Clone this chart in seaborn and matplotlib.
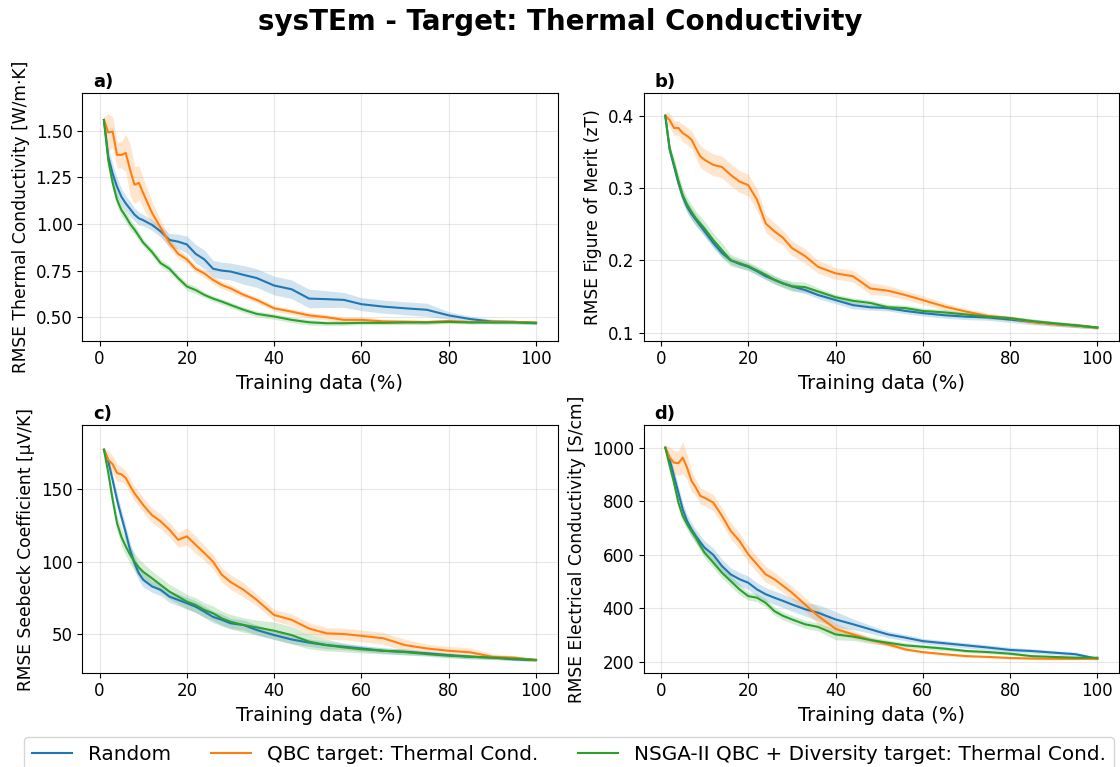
import matplotlib
matplotlib.use("Agg")
import matplotlib.pyplot as plt
import seaborn as sns
import numpy as np
import pandas as pd

# Training-set fraction (%) at which each model was evaluated
train_pct = [1, 2, 3, 4, 5, 6, 7, 8, 9, 10, 12, 14, 16, 18, 20, 22, 24, 26, 28, 30,
             33, 36, 40, 44, 48, 52, 56, 60, 65, 70, 75, 80, 85, 90, 95, 100]

strategies = ["Random", "QBC target: Thermal Cond.", "NSGA-II QBC + Diversity target: Thermal Cond."]
colors = sns.color_palette("tab10", 3)

# a) Thermal conductivity RMSE (mean, std)
a_random = [1.557, 1.36, 1.27, 1.20, 1.146, 1.11, 1.08, 1.05, 1.03, 1.02, 0.995, 0.96, 0.914, 0.905, 0.89, 0.84, 0.81, 0.76,
            0.75, 0.745, 0.727, 0.71, 0.67, 0.65, 0.60, 0.597, 0.593, 0.57, 0.557, 0.548, 0.54, 0.51, 0.49, 0.477, 0.475, 0.468]
a_qbc = [1.557, 1.49, 1.495, 1.37, 1.37, 1.38, 1.29, 1.21, 1.22, 1.165, 1.06, 0.98, 0.90, 0.84, 0.81, 0.76, 0.735, 0.70,
         0.673, 0.655, 0.62, 0.593, 0.548, 0.53, 0.51, 0.50, 0.486, 0.486, 0.478, 0.476, 0.474, 0.48, 0.474, 0.476, 0.475, 0.472]
a_nsga = [1.557, 1.34, 1.22, 1.13, 1.075, 1.04, 1.00, 0.97, 0.935, 0.90, 0.85, 0.79, 0.76, 0.71, 0.665, 0.646, 0.62, 0.60,
          0.584, 0.566, 0.54, 0.518, 0.504, 0.486, 0.473, 0.468, 0.468, 0.47, 0.47, 0.472, 0.472, 0.475, 0.472, 0.472, 0.472, 0.47]
a_random_sd = [0.01, 0.05, 0.05, 0.05, 0.045, 0.04, 0.04, 0.035, 0.035, 0.03, 0.03, 0.03, 0.035, 0.04, 0.045, 0.05, 0.05, 0.045,
               0.045, 0.045, 0.05, 0.05, 0.05, 0.05, 0.05, 0.045, 0.04, 0.035, 0.035, 0.035, 0.035, 0.02, 0.015, 0.012, 0.01, 0.008]
a_qbc_sd = [0.02, 0.1, 0.08, 0.07, 0.07, 0.1, 0.14, 0.1, 0.09, 0.08, 0.06, 0.04, 0.03, 0.025, 0.02, 0.02, 0.02, 0.02,
            0.02, 0.02, 0.015, 0.015, 0.015, 0.015, 0.015, 0.015, 0.015, 0.015, 0.012, 0.012, 0.012, 0.01, 0.01, 0.008, 0.008, 0.008]
a_nsga_sd = [0.02, 0.04, 0.04, 0.035, 0.03, 0.03, 0.03, 0.025, 0.025, 0.02, 0.02, 0.02, 0.02, 0.02, 0.02, 0.02, 0.015, 0.015,
             0.015, 0.015, 0.015, 0.015, 0.015, 0.015, 0.015, 0.012, 0.012, 0.01, 0.01, 0.01, 0.01, 0.008, 0.008, 0.008, 0.008, 0.008]

# b) Figure of merit RMSE
b_random = [0.40, 0.353, 0.33, 0.307, 0.288, 0.274, 0.264, 0.256, 0.248, 0.24, 0.224, 0.21, 0.20, 0.195, 0.191, 0.185, 0.178, 0.173,
            0.168, 0.164, 0.159, 0.152, 0.145, 0.138, 0.135, 0.134, 0.130, 0.127, 0.124, 0.122, 0.121, 0.118, 0.115, 0.112, 0.110, 0.107]
b_qbc = [0.40, 0.394, 0.383, 0.383, 0.376, 0.372, 0.367, 0.355, 0.344, 0.339, 0.332, 0.329, 0.318, 0.309, 0.304, 0.284, 0.251, 0.24,
         0.231, 0.217, 0.206, 0.191, 0.182, 0.178, 0.161, 0.158, 0.152, 0.145, 0.136, 0.129, 0.123, 0.12, 0.115, 0.112, 0.110, 0.107]
b_nsga = [0.40, 0.355, 0.333, 0.31, 0.29, 0.277, 0.267, 0.258, 0.251, 0.244, 0.228, 0.214, 0.20, 0.196, 0.192, 0.186, 0.18, 0.173,
          0.168, 0.164, 0.163, 0.157, 0.149, 0.144, 0.141, 0.135, 0.134, 0.130, 0.128, 0.125, 0.122, 0.12, 0.116, 0.113, 0.110, 0.107]
b_random_sd = [0.002, 0.006, 0.007, 0.008, 0.008, 0.008, 0.008, 0.008, 0.007, 0.007, 0.006, 0.006, 0.005, 0.005, 0.005, 0.005, 0.005, 0.005,
               0.005, 0.005, 0.005, 0.005, 0.005, 0.005, 0.004, 0.004, 0.004, 0.004, 0.004, 0.004, 0.004, 0.004, 0.004, 0.003, 0.003, 0.002]
b_qbc_sd = [0.005, 0.01, 0.01, 0.01, 0.012, 0.012, 0.012, 0.014, 0.015, 0.015, 0.015, 0.015, 0.015, 0.015, 0.015, 0.015, 0.012, 0.012,
            0.01, 0.01, 0.01, 0.009, 0.008, 0.008, 0.008, 0.007, 0.006, 0.006, 0.005, 0.004, 0.004, 0.003, 0.003, 0.003, 0.003, 0.002]
b_nsga_sd = [0.002, 0.006, 0.008, 0.01, 0.01, 0.01, 0.01, 0.01, 0.01, 0.01, 0.01, 0.01, 0.008, 0.007, 0.006, 0.006, 0.006, 0.006,
             0.006, 0.007, 0.007, 0.005, 0.004, 0.004, 0.004, 0.004, 0.004, 0.004, 0.004, 0.003, 0.003, 0.003, 0.003, 0.003, 0.003, 0.002]

# c) Seebeck coefficient RMSE
c_random = [177, 169, 156, 142.6, 131, 120, 108, 99, 92, 87.5, 83, 80.6, 76, 73.7, 71.4, 69, 65.6, 62,
            60, 57.6, 56.4, 53, 49.5, 46.5, 44.3, 42.6, 41.5, 40.3, 38.7, 38, 37, 35.7, 34.6, 34, 32.8, 32.3]
c_qbc = [177, 170, 167, 161, 160, 157.6, 152, 147, 143, 139, 132, 127.7, 122, 115, 117.4, 111.6, 106, 100,
         91, 86, 80.6, 73.7, 63.3, 60, 54, 50.7, 50.2, 49, 47.3, 42.6, 40.3, 38.7, 37.6, 34.6, 34, 32.3]
c_nsga = [177, 161, 142.6, 126.5, 117, 110.5, 104.7, 100, 96, 93, 88.6, 84, 79.4, 76, 72.5, 70.2, 66.8, 64.5,
          61, 58.7, 56.4, 54.8, 52.5, 49.5, 45, 42.6, 41, 39.7, 38.7, 37.8, 36.4, 35.3, 34.6, 34, 33.2, 32.5]
c_random_sd = [1, 3, 4, 5, 5, 5, 5, 5, 5, 5, 4, 4, 4, 4, 4, 4, 4, 4,
               4, 3.5, 3.5, 3.5, 3, 3, 2.5, 2.5, 2, 2, 2, 2, 1.5, 1.5, 1.5, 1.2, 1, 1]
c_qbc_sd = [2, 6, 6, 6, 5, 5, 5, 5, 5, 5, 5, 5, 5, 5, 6, 6, 5, 5,
            5, 5, 5, 4, 4, 4, 4, 4, 4, 4, 4, 4, 3, 3, 3, 2, 1.5, 1]
c_nsga_sd = [1, 3, 4, 5, 6, 6, 6, 6, 6, 6, 5, 5, 5, 5, 5, 5, 5, 5,
             5, 5, 5, 5, 6, 6, 5, 4, 3, 2.5, 2, 2, 1.5, 1.5, 1.5, 1.2, 1, 1]

# d) Electrical conductivity RMSE
d_random = [1000, 956, 894, 832, 770, 726, 695, 670, 648, 627, 600, 558, 527, 509, 496, 471, 453, 440,
            428, 415, 397, 384, 359, 341, 322, 303, 291, 278, 270, 262, 254, 245, 241, 235, 229, 212]
d_qbc = [1000, 963, 944, 942, 963, 925, 876, 851, 820, 813, 795, 745, 689, 652, 602, 565, 527, 509,
         484, 459, 415, 372, 324, 303, 282, 266, 247, 237, 229, 222, 219, 215, 213, 212, 212, 212]
d_nsga = [1000, 932, 869, 795, 745, 714, 688, 664, 635, 608, 571, 533, 502, 471, 446, 440, 421, 390,
          372, 359, 341, 331, 303, 295, 282, 272, 262, 257, 250, 241, 237, 231, 222, 219, 216, 216]
d_random_sd = [5, 20, 25, 25, 25, 25, 25, 25, 25, 25, 25, 25, 25, 25, 25, 25, 25, 25,
               25, 25, 25, 30, 30, 20, 15, 12, 12, 10, 10, 10, 10, 10, 8, 8, 8, 5]
d_qbc_sd = [10, 40, 45, 45, 60, 45, 40, 30, 30, 30, 30, 30, 30, 30, 30, 30, 30, 25,
            25, 25, 25, 30, 20, 15, 10, 8, 6, 5, 5, 5, 4, 4, 4, 4, 4, 4]
d_nsga_sd = [5, 15, 20, 20, 20, 20, 20, 20, 20, 20, 20, 20, 20, 20, 15, 15, 15, 15,
             15, 15, 15, 15, 20, 15, 12, 10, 10, 8, 8, 6, 6, 5, 5, 5, 5, 5]

# y ticks shown on each panel
a_yticks = [0.50, 0.75, 1.00, 1.25, 1.50]
b_yticks = [0.1, 0.2, 0.3, 0.4]
c_yticks = [50, 100, 150]
d_yticks = [200, 400, 600, 800, 1000]

panels = [
    ("a)", "RMSE Thermal Conductivity [W/m·K]", [a_random, a_qbc, a_nsga], [a_random_sd, a_qbc_sd, a_nsga_sd],
     a_yticks, (0.375, 1.70), "{:.2f}"),
    ("b)", "RMSE Figure of Merit (zT)", [b_random, b_qbc, b_nsga], [b_random_sd, b_qbc_sd, b_nsga_sd],
     b_yticks, (0.089, 0.431), "{:.1f}"),
    ("c)", "RMSE Seebeck Coefficient [µV/K]", [c_random, c_qbc, c_nsga], [c_random_sd, c_qbc_sd, c_nsga_sd],
     c_yticks, (23.6, 193.7), "{:.0f}"),
    ("d)", "RMSE Electrical Conductivity [S/cm]", [d_random, d_qbc, d_nsga], [d_random_sd, d_qbc_sd, d_nsga_sd],
     d_yticks, (160, 1083), "{:.0f}"),
]

fig, axes = plt.subplots(2, 2, figsize=(11.2, 7.67), dpi=100)
fig.subplots_adjust(left=0.0735, right=0.9991, top=0.8784, bottom=0.1229, wspace=0.181, hspace=0.343)

x = np.array(train_pct, dtype=float)
for ax, (tag, ylabel, means, sds, yt, ylim, fmt) in zip(axes.flat, panels):
    for name, col, m, s in zip(strategies, colors, means, sds):
        m = np.array(m, dtype=float)
        s = np.array(s, dtype=float)
        df = pd.DataFrame({"pct": x, "rmse": m})
        sns.lineplot(data=df, x="pct", y="rmse", ax=ax, color=col, linewidth=1.5, label=name, legend=False)
        ax.fill_between(x, m - s, m + s, color=col, alpha=0.2, linewidth=0)
    ax.set_ylim(*ylim)
    ax.set_yticks(yt)
    ax.set_yticklabels([fmt.format(v) for v in yt])
    ax.set_xticks([0, 20, 40, 60, 80, 100])
    ax.set_xlabel("Training data (%)", fontsize=14)
    ax.set_ylabel(ylabel, fontsize=12.3)
    ax.tick_params(labelsize=12)
    ax.grid(True, alpha=0.3)
    ax.text(0.0225, 1.01, tag, transform=ax.transAxes, fontsize=13, fontweight="bold", va="bottom", ha="left")

fig.suptitle("sysTEm - Target: Thermal Conductivity", fontsize=20, fontweight="bold", y=0.9896)

handles, labels = axes[0, 0].get_legend_handles_labels()
fig.legend(handles, labels, loc="lower center", ncol=3, fontsize=14.4, bbox_to_anchor=(0.508, -0.019))

fig.savefig("out.png", dpi=100)
